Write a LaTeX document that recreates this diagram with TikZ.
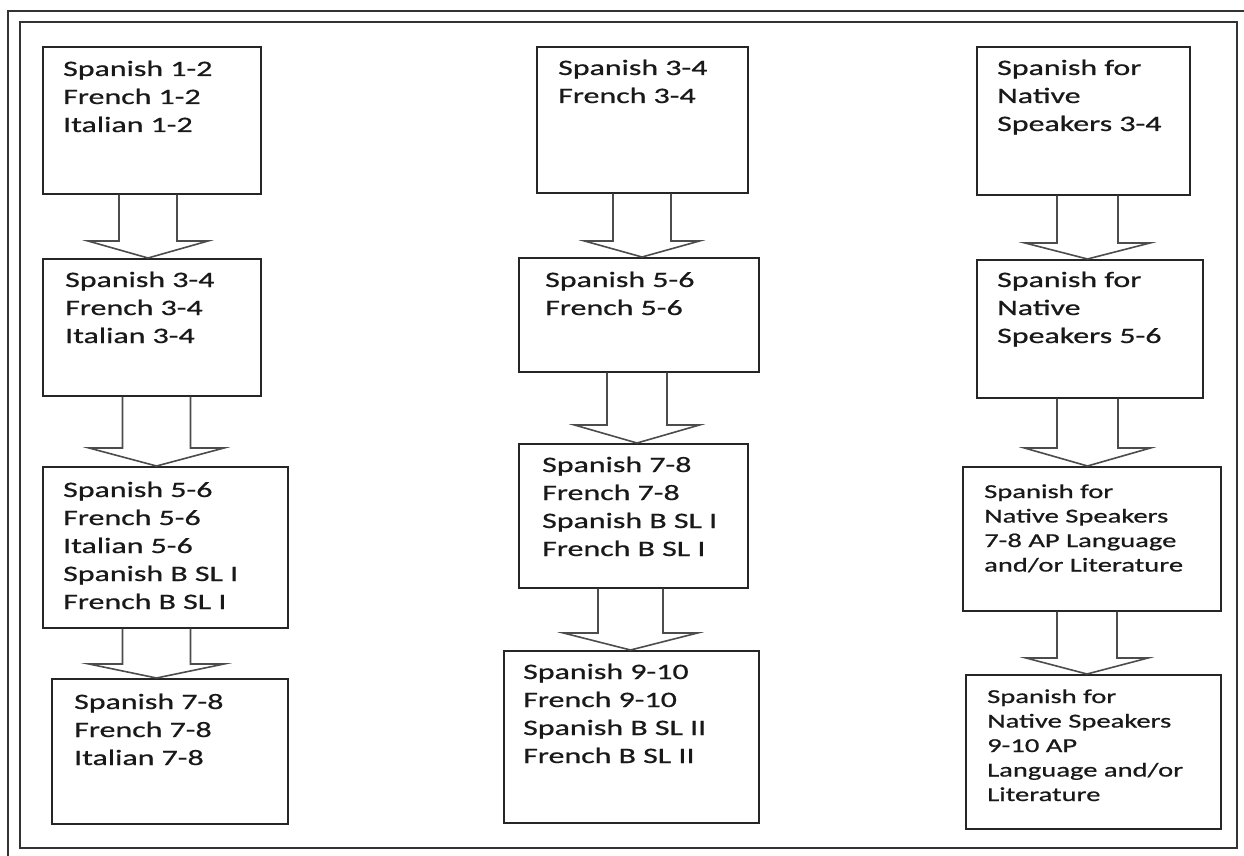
\documentclass[tikz,border=0pt]{standalone}
\usepackage{fontspec}
\setmainfont[FakeStretch=1.45,FakeBold=0.7]{Carlito}
\usetikzlibrary{calc}
\newcommand\blockarrow[6]{%
  \draw[blk] let \p1=(#1.south), \p2=(#2.north) in
    ({(#3-#4)*1pt},\y1) -- ({(#3-#4)*1pt},{\y2+#6pt}) -- ({(#3-#5)*1pt},{\y2+#6pt})
    -- ({#3*1pt},\y2) -- ({(#3+#5)*1pt},{\y2+#6pt}) -- ({(#3+#4)*1pt},{\y2+#6pt})
    -- ({(#3+#4)*1pt},\y1);}
\newcommand\lines[1]{\begin{tabular}[t]{@{}l@{}}#1\end{tabular}}
\begin{document}
\begin{tikzpicture}[x=1pt,y=-1pt,
  box/.style={draw=black!85, line width=1.7pt, inner sep=0pt, anchor=north west},
  frame/.style={draw=black!80, line width=1.8pt},
  blk/.style={draw=black!70, line width=1.6pt, line join=miter},
  txt/.style={anchor=base west, inner sep=0pt, text=black!90, font=\fontsize{22}{28}\selectfont},
  txs/.style={txt, font=\fontsize{19.7}{24.5}\selectfont}]
\useasboundingbox (0,0) rectangle (1244,856);
\clip (0,0) rectangle (1244,856);
\fill[white] (0,0) rectangle (1244,856);
% frames
\draw[frame] (8,870) -- (8,11) -- (1260,11);
\draw[frame] (20,22) rectangle (1237,848);
% column 1
\node[box, minimum width=218pt, minimum height=147pt] (b11) at (42,46) {};
\node[box, minimum width=218pt, minimum height=137pt] (b12) at (42,258) {};
\node[box, minimum width=245pt, minimum height=161pt] (b13) at (42,466) {};
\node[box, minimum width=236pt, minimum height=145pt] (b14) at (51,678) {};
% column 2
\node[box, minimum width=211pt, minimum height=146pt] (b21) at (536,46) {};
\node[box, minimum width=240pt, minimum height=114pt] (b22) at (518,257) {};
\node[box, minimum width=229pt, minimum height=144pt] (b23) at (518,443) {};
\node[box, minimum width=255pt, minimum height=172pt] (b24) at (503,650) {};
% column 3
\node[box, minimum width=213pt, minimum height=148pt] (b31) at (976,46) {};
\node[box, minimum width=226pt, minimum height=138pt] (b32) at (976,259) {};
\node[box, minimum width=258pt, minimum height=144pt] (b33) at (962,466) {};
\node[box, minimum width=255pt, minimum height=154pt] (b34) at (965,674) {};
% texts
\node[txt] (t11) at (63,76) {\lines{Spanish 1-2\\French 1-2\\Italian 1-2}};
\node[txt] (t12) at (65,287) {\lines{Spanish 3-4\\French 3-4\\Italian 3-4}};
\node[txt] (t13) at (63,497) {\lines{Spanish 5-6\\French 5-6\\Italian 5-6\\Spanish B SL I\\French B SL I}};
\node[txt] (t14) at (74,709) {\lines{Spanish 7-8\\French 7-8\\Italian 7-8}};
\node[txt] (t21) at (558,75) {\lines{Spanish 3-4\\French 3-4}};
\node[txt] (t22) at (545,287) {\lines{Spanish 5-6\\French 5-6}};
\node[txt] (t23) at (542,472) {\lines{Spanish 7-8\\French 7-8\\Spanish B SL I\\French B SL I}};
\node[txt] (t24) at (523,679) {\lines{Spanish 9-10\\French 9-10\\Spanish B SL II\\French B SL II}};
\node[txt] (t31) at (997,75) {\lines{Spanish for\\Native\\Speakers 3-4}};
\node[txt] (t32) at (997,287) {\lines{Spanish for\\Native\\Speakers 5-6}};
\node[txs] (t33) at (984,498) {\lines{Spanish for\\Native Speakers\\7-8 AP Language\\and/or Literature}};
\node[txs] (t34) at (987,703) {\lines{Spanish for\\Native Speakers\\9-10 AP\\Language and/or\\Literature}};
% block arrows
\blockarrow{b11}{b12}{148}{29}{60}{17}
\blockarrow{b12}{b13}{156.5}{34}{67.5}{18}
\blockarrow{b13}{b14}{156.5}{34}{67.5}{14}
\blockarrow{b21}{b22}{642}{29}{57.5}{16}
\blockarrow{b22}{b23}{637}{30}{62.5}{18}
\blockarrow{b23}{b24}{630.5}{32.5}{67}{17}
\blockarrow{b31}{b32}{1087.5}{30.5}{62.5}{16}
\blockarrow{b32}{b33}{1087.5}{30.5}{63}{18}
\blockarrow{b33}{b34}{1087}{30}{61}{16}
\end{tikzpicture}
\end{document}
